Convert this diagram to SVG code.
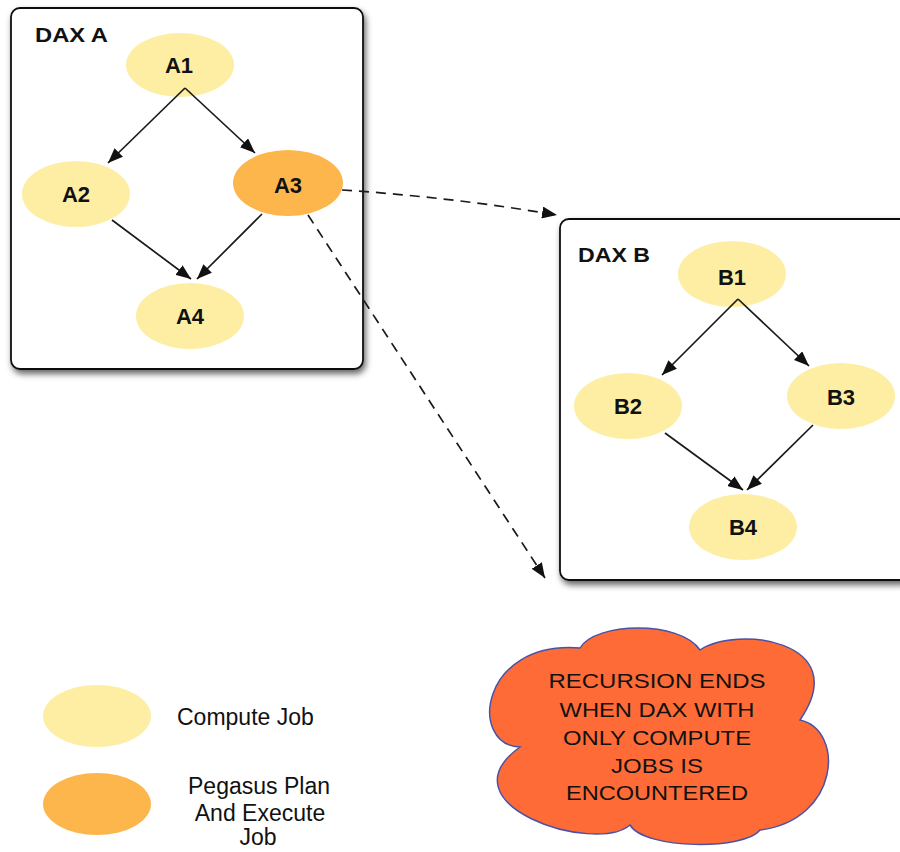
<svg xmlns="http://www.w3.org/2000/svg" width="900" height="852" viewBox="0 0 900 852">
<style>
.box{fill:#fff;stroke:#111;stroke-width:1.8}
.job{fill:#FDEEA3}
.pe{fill:#FDB64C}
.lbl{font-family:"Liberation Sans",Arial,sans-serif;font-weight:bold;font-size:22px;fill:#111;text-anchor:middle}
.title{font-family:"Liberation Sans",Arial,sans-serif;font-weight:bold;font-size:21px;fill:#111}
.edge{stroke:#1a1a1a;stroke-width:1.7;fill:none}
.dash{stroke:#1a1a1a;stroke-width:1.7;fill:none;stroke-dasharray:10 7}
.ct{font-family:"Liberation Sans",Arial,sans-serif;font-size:21px;fill:#111;text-anchor:middle}
.lg{font-family:"Liberation Sans",Arial,sans-serif;font-size:23px;fill:#111}
</style>
<defs>
<filter id="sh" x="-5%" y="-5%" width="115%" height="115%">
<feDropShadow dx="2" dy="4" stdDeviation="3" flood-color="#000" flood-opacity="0.6"/>
</filter>
<marker id="ah" viewBox="0 0 15 12" refX="15" refY="6" markerWidth="15" markerHeight="12" orient="auto" markerUnits="userSpaceOnUse">
<path d="M0,0 L15,6 L0,12 z" fill="#111"/>
</marker>
</defs>

<g id="daxA">
<rect class="box" x="11" y="8" width="352" height="361" rx="9" filter="url(#sh)"/>
<text class="title" x="35" y="42" textLength="73" lengthAdjust="spacingAndGlyphs">DAX A</text>
</g>
<g id="daxB">
<rect class="box" x="560" y="219" width="350" height="361" rx="9" filter="url(#sh)"/>
<text class="title" x="578" y="262" textLength="72" lengthAdjust="spacingAndGlyphs">DAX B</text>
</g>

<g id="A1"><ellipse class="job" cx="180" cy="65" rx="54" ry="32"/><text class="lbl" x="179" y="73">A1</text></g>
<g id="A2"><ellipse class="job" cx="76" cy="194" rx="54" ry="33"/><text class="lbl" x="76" y="202">A2</text></g>
<g id="A3"><ellipse class="pe" cx="288" cy="183" rx="55" ry="33"/><text class="lbl" x="288" y="192.5">A3</text></g>
<g id="A4"><ellipse class="job" cx="190" cy="316" rx="54" ry="33"/><text class="lbl" x="190" y="324">A4</text></g>

<g id="B1"><ellipse class="job" cx="732" cy="274" rx="54" ry="33"/><text class="lbl" x="732" y="285">B1</text></g>
<g id="B2"><ellipse class="job" cx="628" cy="406" rx="54" ry="33"/><text class="lbl" x="628" y="414">B2</text></g>
<g id="B3"><ellipse class="job" cx="841" cy="396" rx="54" ry="33"/><text class="lbl" x="841" y="405">B3</text></g>
<g id="B4"><ellipse class="job" cx="743" cy="527" rx="54" ry="33"/><text class="lbl" x="743" y="535">B4</text></g>

<g id="connectors">
<line class="edge" x1="185" y1="88" x2="108" y2="163" marker-end="url(#ah)"/>
<line class="edge" x1="185" y1="88" x2="255" y2="153" marker-end="url(#ah)"/>
<line class="edge" x1="112" y1="220" x2="191" y2="279" marker-end="url(#ah)"/>
<line class="edge" x1="262" y1="214" x2="197" y2="279" marker-end="url(#ah)"/>
<line class="edge" x1="738" y1="299" x2="662" y2="375" marker-end="url(#ah)"/>
<line class="edge" x1="738" y1="299" x2="809" y2="366" marker-end="url(#ah)"/>
<line class="edge" x1="665" y1="433" x2="743" y2="490" marker-end="url(#ah)"/>
<line class="edge" x1="813" y1="425" x2="747" y2="490" marker-end="url(#ah)"/>
<path class="dash" d="M342,190 Q450,197 557,215" marker-end="url(#ah)"/>
<line class="dash" x1="308" y1="215" x2="545" y2="578" marker-end="url(#ah)"/>
</g>

<g id="cloud">
<path d="M520,747 C468,745 480,640 580,648 C595,622 680,620 700,650 C735,625 855,640 800,720 C845,730 840,820 760,830 C745,850 645,850 630,825 C595,855 440,805 520,747 Z" fill="#FF6B37" stroke="#4A52A5" stroke-width="1.5"/>
<text class="ct" x="657" y="688" textLength="217" lengthAdjust="spacingAndGlyphs">RECURSION ENDS</text>
<text class="ct" x="657" y="717" textLength="195" lengthAdjust="spacingAndGlyphs">WHEN DAX WITH</text>
<text class="ct" x="657" y="745" textLength="188" lengthAdjust="spacingAndGlyphs">ONLY COMPUTE</text>
<text class="ct" x="657" y="773" textLength="92" lengthAdjust="spacingAndGlyphs">JOBS IS</text>
<text class="ct" x="657" y="800" textLength="182" lengthAdjust="spacingAndGlyphs">ENCOUNTERED</text>
</g>

<g id="legend-compute">
<ellipse class="job" cx="97" cy="716" rx="54" ry="31"/>
<text class="lg" x="177" y="725">Compute Job</text>
</g>
<g id="legend-pegasus">
<ellipse class="pe" cx="97" cy="804" rx="54" ry="31"/>
<text class="lg" x="259" y="794" text-anchor="middle">Pegasus Plan</text>
<text class="lg" x="260" y="821" text-anchor="middle">And Execute</text>
<text class="lg" x="258" y="845" text-anchor="middle">Job</text>
</g>
</svg>
